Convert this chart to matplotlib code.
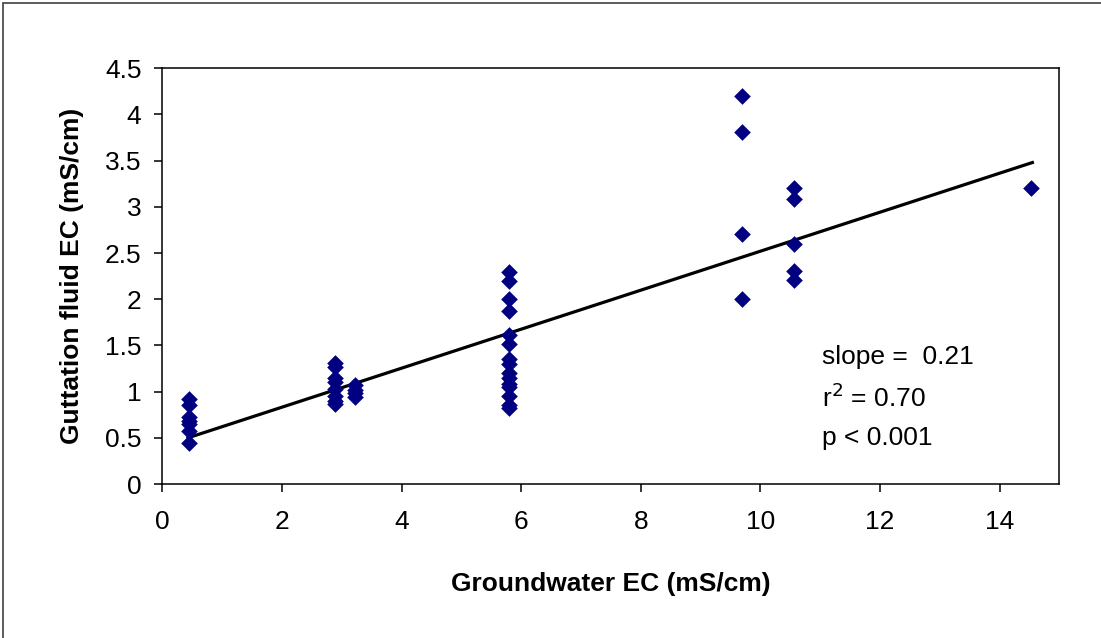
import matplotlib
matplotlib.use("Agg")
import matplotlib.pyplot as plt
from matplotlib.patches import Rectangle

plt.rcParams['font.family'] = ['Liberation Sans', 'DejaVu Sans']

# Groundwater EC (x) and guttation fluid EC (y), per sampling site
gw_ec = ([0.45] * 7 + [2.89] * 8 + [3.22] * 4 + [5.79] * 15 +
         [9.70] * 4 + [10.57] * 5 + [14.53])
gut_ec = [0.92, 0.86, 0.72, 0.68, 0.65, 0.57, 0.44,
          1.31, 1.27, 1.15, 1.10, 1.03, 0.95, 0.90, 0.87,
          1.07, 1.02, 0.98, 0.94,
          2.29, 2.20, 2.00, 1.87, 1.61, 1.52, 1.35, 1.30, 1.20, 1.15, 1.08, 1.05, 0.95, 0.86, 0.82,
          4.20, 3.81, 2.71, 2.00,
          3.20, 3.09, 2.60, 2.31, 2.21,
          3.20]

# regression line end points
fit_x = [0.43, 14.55]
fit_y = [0.50, 3.48]

x_ticks = [0, 2, 4, 6, 8, 10, 12, 14]
y_ticks = [0, 0.5, 1, 1.5, 2, 2.5, 3, 3.5, 4, 4.5]
y_tick_labels = ['0', '0.5', '1', '1.5', '2', '2.5', '3', '3.5', '4', '4.5']

stats_lines = ['slope =  0.21', r'r$^2$ = 0.70', 'p < 0.001']
stats_y = [1.37, 0.935, 0.50]

W, H = 1101, 638
fig = plt.figure(figsize=(W / 100, H / 100), dpi=100)
fig.patch.set_facecolor('white')

# outer chart border (right/bottom lie outside the image)
fig.patches.append(Rectangle((3 / W, -0.05), 1.2, (H - 3.3) / H + 0.05,
                             transform=fig.transFigure, fill=False,
                             edgecolor='#404040', linewidth=1.2))

ax = fig.add_axes([162.3 / W, (H - 484) / H, (1059.3 - 162.3) / W, (484 - 68.3) / H])
ax.scatter(gw_ec, gut_ec, marker='D', s=72, color='#000080', linewidths=0, zorder=3)
ax.plot(fit_x, fit_y, color='black', linewidth=2.3, zorder=2)

ax.set_xlim(0, 15)
ax.set_ylim(0, 4.5)
ax.set_xticks(x_ticks)
ax.set_xticklabels([str(v) for v in x_ticks])
ax.set_yticks(y_ticks)
ax.set_yticklabels(y_tick_labels)
for s in ax.spines.values():
    s.set_color('black')
    s.set_linewidth(1.1)
ax.tick_params(axis='both', direction='out', length=6, width=1.1, labelsize=19, colors='black')
ax.tick_params(axis='y', pad=9)
ax.tick_params(axis='x', pad=13)

ax.set_xlabel('Groundwater EC (mS/cm)', fontsize=19, fontweight='bold', labelpad=27)
ax.set_ylabel('Guttation fluid EC (mS/cm)', fontsize=19, fontweight='bold', labelpad=15)

for t, yv in zip(stats_lines, stats_y):
    ax.text(11.03, yv, t, fontsize=19, ha='left', va='center')

fig.savefig('out.png', dpi=100, facecolor='white')
